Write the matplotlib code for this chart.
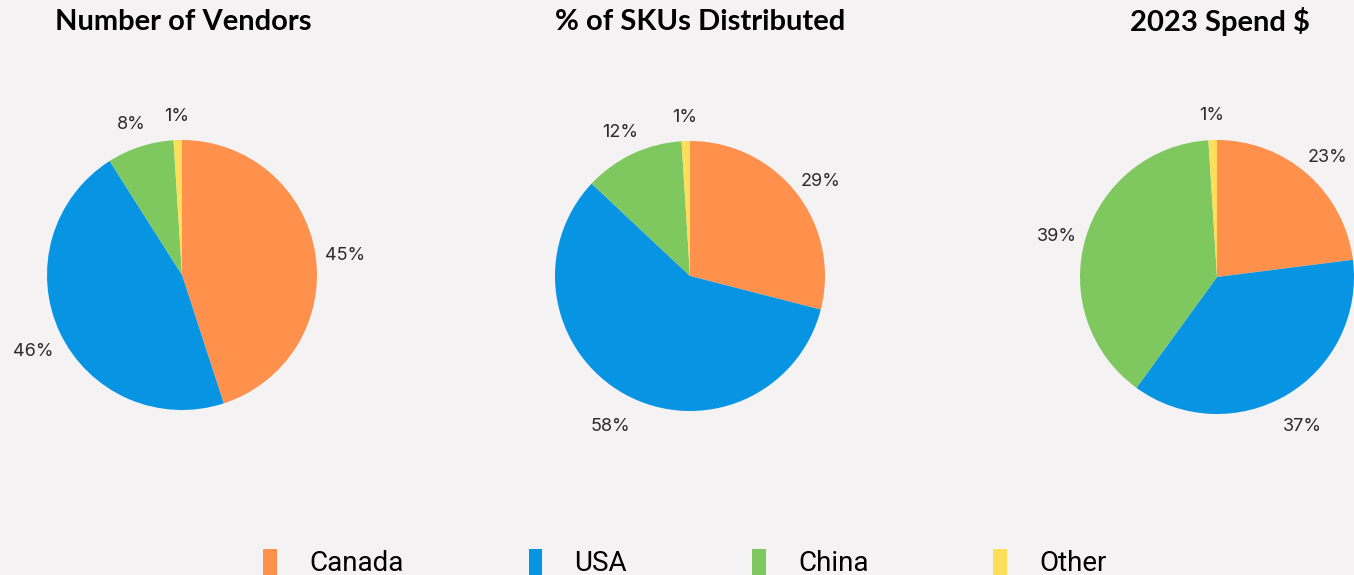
import matplotlib
matplotlib.use("Agg")
import matplotlib.pyplot as plt

# data
regions = ["Canada", "USA", "China", "Other"]
colors = ["#ff914d", "#0794e3", "#7ec85f", "#ffde59"]
titles = ["Number of Vendors", "% of SKUs Distributed", "2023 Spend $"]
vendors = [45, 46, 8, 1]
skus = [29, 58, 12, 1]
spend = [23, 37, 39, 1]

bg = "#f4f2f3"
W, H = 1354, 575
fig = plt.figure(figsize=(W / 100, H / 100), dpi=100, facecolor=bg)

# pie centre (px), radius (px), title centre x (px)
layout = [(182, 275, 135, 183), (690, 276, 135, 700), (1217, 277, 137, 1220)]

wedges = None
for (cx, cy, r, tx), title, vals in zip(layout, titles, [vendors, skus, spend]):
    ax = fig.add_axes([(cx - r) / W, 1 - (cy + r) / H, 2 * r / W, 2 * r / H])
    ax.set_facecolor(bg)
    w, t = ax.pie(vals, colors=colors, startangle=90, counterclock=False,
                  labels=[f"{v}%" for v in vals], labeldistance=1.22,
                  textprops=dict(fontsize=13, color="#2b2b2b", family="Inter"),
                  wedgeprops=dict(linewidth=0))
    for txt in t:
        x, y = txt.get_position()
        txt.set_position((x, y - 6 / r))  # labels sit slightly lower in the original
        txt.set_ha("center")
        txt.set_va("center")
        txt.set_clip_on(False)
    ax.set_xlim(-1, 1)
    ax.set_ylim(-1, 1)
    ax.set_aspect("equal")
    ax.axis("off")
    fig.text(tx / W, 1 - 22 / H, title, ha="center", va="center",
             fontsize=21, fontweight="bold", family="Lato")
    if wedges is None:
        wedges = w

leg = fig.legend(wedges, regions, ncol=4, loc="center",
                 bbox_to_anchor=(685 / W, 1 - 563 / H), frameon=False,
                 prop=dict(family="Roboto", size=20),
                 handlelength=0.5, handleheight=1.1, handletextpad=1.15,
                 columnspacing=4.5)

fig.savefig("out.png", dpi=100, facecolor=bg)
